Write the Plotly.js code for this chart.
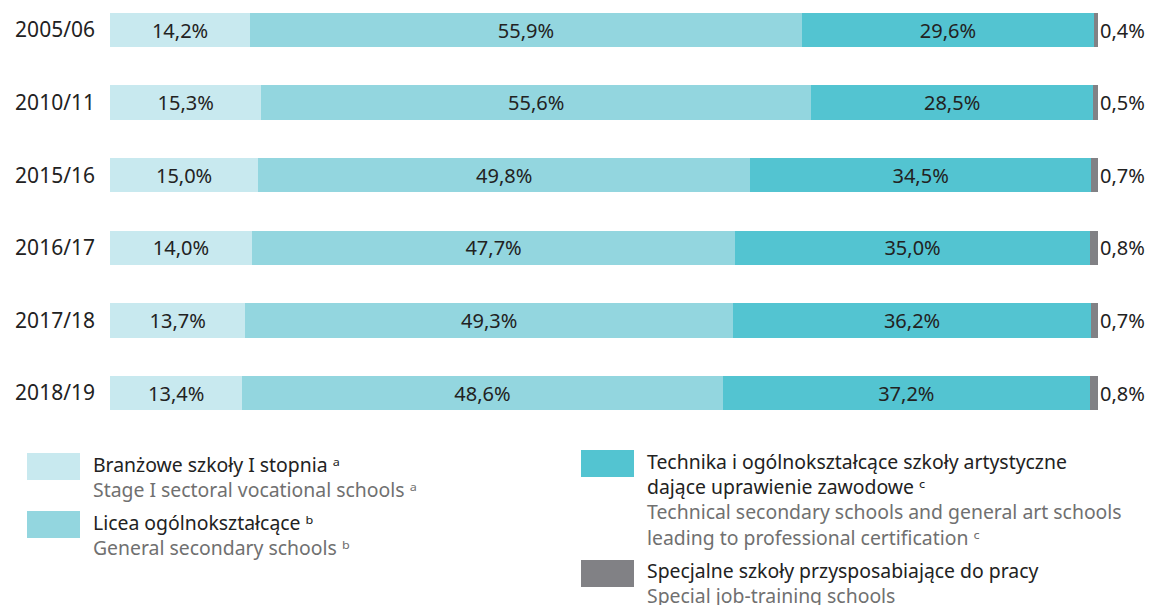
<!DOCTYPE html>
<html>
<head>
<meta charset="utf-8">
<script src="https://cdn.plot.ly/plotly-3.0.1.min.js"></script>
<style>html,body{margin:0;padding:0;background:#fff;}#chart{width:1150px;height:605px;}</style>
</head>
<body>
<div id="chart"></div>
<script>
// ---- data ----
const years = ["2005/06", "2010/11", "2015/16", "2016/17", "2017/18", "2018/19"];
const branzowe = [14.2, 15.3, 15.0, 14.0, 13.7, 13.4];
const licea = [55.9, 55.6, 49.8, 47.7, 49.3, 48.6];
const technika = [29.6, 28.5, 34.5, 35.0, 36.2, 37.2];
const specjalne = [0.4, 0.5, 0.7, 0.8, 0.7, 0.8];

const seriesNames = [
  "Branżowe szkoły I stopnia",
  "Licea ogólnokształcące",
  "Technika i ogólnokształcące szkoły artystyczne dające uprawienie zawodowe",
  "Specjalne szkoły przysposabiające do pracy"
];
const legendLines = [
  [["Branżowe szkoły I stopnia ᵃ", "dark"], ["Stage I sectoral vocational schools ᵃ", "grey"]],
  [["Licea ogólnokształcące ᵇ", "dark"], ["General secondary schools ᵇ", "grey"]],
  [["Technika i ogólnokształcące szkoły artystyczne", "dark"], ["dające uprawienie zawodowe ᶜ", "dark"],
   ["Technical secondary schools and general art schools", "grey"], ["leading to professional certification ᶜ", "grey"]],
  [["Specjalne szkoły przysposabiające do pracy", "dark"], ["Special job-training schools", "grey"]]
];

const colors = ["#c8e9ef", "#93d6df", "#53c4d1", "#818185"];
const FONT = "Noto Sans, Open Sans, sans-serif";
const DARK = "#222222", GREY = "#707070";

const fmt = v => v.toFixed(1).replace(".", ",") + "%";

// ---- layout helpers (pixel -> paper) ----
const L = 110, R = 1098, T = 10, B = 420;
const X = px => (px - L) / (R - L);
const Y = py => (B - py) / (B - T);

const allSeries = [branzowe, licea, technika, specjalne];
const traces = allSeries.map((vals, i) => {
  const t = {
    type: "bar",
    orientation: "h",
    name: seriesNames[i],
    y: years,
    x: vals,
    marker: {color: colors[i], line: {width: 0}},
    hoverinfo: "skip"
  };
  if (i < 3) {
    t.text = vals.map(fmt);
    t.textposition = "inside";
    t.insidetextanchor = "middle";
    t.textangle = 0;
    t.constraintext = "none";
    t.textfont = {family: FONT, size: 20, color: DARK};
  } else {
    t.textposition = "none";
  }
  return t;
});

const annotations = [];
// labels for the small last segment, right of the bars
years.forEach((yr, k) => {
  annotations.push({
    x: 100, y: yr, xref: "x", yref: "y",
    text: fmt(specjalne[k]), showarrow: false,
    xanchor: "left", yanchor: "middle", xshift: 0,
    font: {family: FONT, size: 20, color: DARK}
  });
});

// legend
const LFS = 19.4;
const shapes = [];
const legendPos = [
  {sx: 27, sw: 53, sy: 453, tx: 91, ty0: 463},
  {sx: 27, sw: 53, sy: 511, tx: 91, ty0: 521},
  {sx: 581, sw: 53, sy: 450, tx: 645, ty0: 460},
  {sx: 581, sw: 53, sy: 560, tx: 645, ty0: 569}
];
legendPos.forEach((p, i) => {
  shapes.push({
    type: "rect", xref: "paper", yref: "paper",
    x0: X(p.sx), x1: X(p.sx + p.sw), y0: Y(p.sy + 27), y1: Y(p.sy),
    fillcolor: colors[i], line: {width: 0}
  });
  const txt = legendLines[i]
    .map(ln => '<span style="color:' + (ln[1] === "dark" ? DARK : GREY) + '">' + ln[0] + '</span>')
    .join("<br>");
  annotations.push({
    xref: "paper", yref: "paper",
    x: X(p.tx), y: Y(p.ty0 - 14),
    xanchor: "left", yanchor: "top",
    text: txt, showarrow: false, align: "left",
    font: {family: FONT, size: LFS, color: DARK}
  });
});

const layout = {
  width: 1150, height: 605,
  margin: {l: L, r: 1150 - R, t: T, b: 605 - B, pad: 0},
  paper_bgcolor: "#ffffff", plot_bgcolor: "#ffffff",
  barmode: "stack", barnorm: "percent",
  bargap: 0.525,
  showlegend: false,
  font: {family: FONT, size: 20, color: DARK},
  xaxis: {range: [0, 100], visible: false, fixedrange: true},
  yaxis: {
    type: "category",
    range: [5 + (B - 393) / 72.6, -(30 - T) / 72.6],
    showgrid: false, zeroline: false, showline: false,
    ticks: "", ticklabelstandoff: 14,
    tickfont: {family: FONT, size: 21, color: DARK},
    fixedrange: true
  },
  shapes: shapes,
  annotations: annotations,
  hovermode: false
};

Plotly.newPlot("chart", traces, layout, {displayModeBar: false, staticPlot: true});
</script>
</body>
</html>
